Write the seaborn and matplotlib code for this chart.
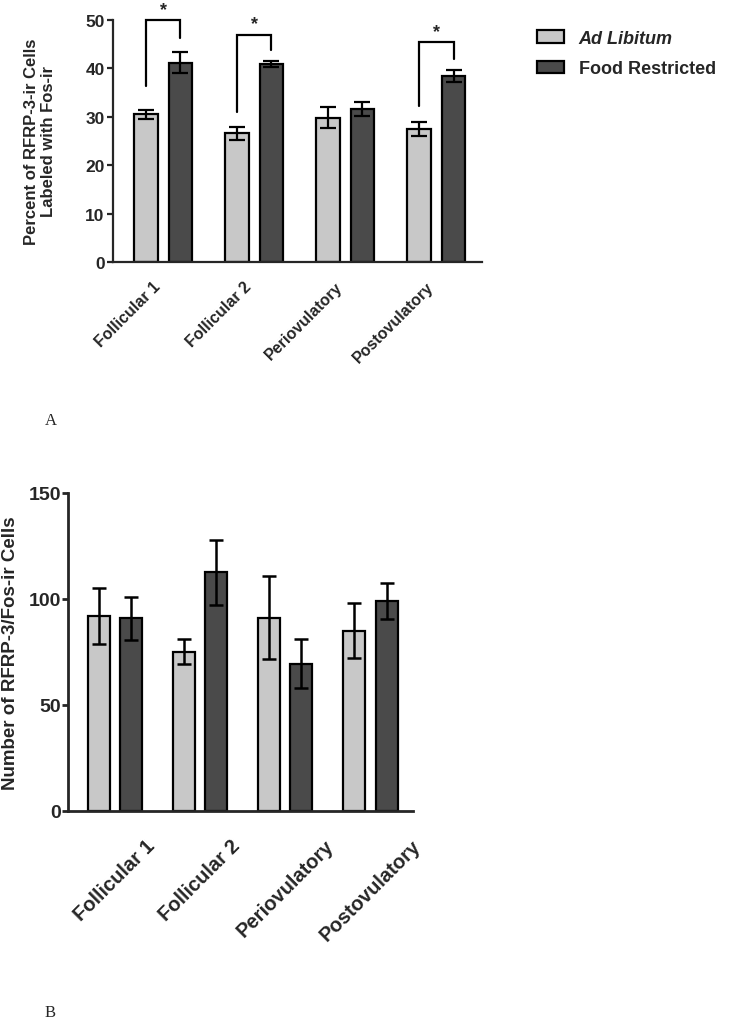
import pandas as pd
import numpy as np
import matplotlib
matplotlib.use('Agg')
import matplotlib.pyplot as plt
import seaborn as sns
from matplotlib.patches import Patch

phases = ['Follicular 1', 'Follicular 2', 'Periovulatory', 'Postovulatory']
groups = ['Ad Libitum', 'Food Restricted']

# panel A: percent of RFRP-3-ir cells labeled with Fos-ir (mean, sem)
pct_al = [30.5, 26.6, 29.8, 27.5]
pct_al_err = [0.9, 1.3, 2.2, 1.4]
pct_fr = [41.2, 40.9, 31.6, 38.4]
pct_fr_err = [2.2, 0.7, 1.5, 1.2]

# significance brackets in panel A: phase index, left foot, top, right foot
sig_phase = [0, 1, 3]
sig_left = [36.4, 31.0, 32.3]
sig_top = [49.9, 47.0, 45.4]
sig_right = [46.2, 43.7, 41.9]

# panel B: number of RFRP-3/Fos-ir cells (mean, sem)
num_al = [92.0, 75.0, 91.0, 85.0]
num_al_err = [13.2, 5.9, 19.6, 13.0]
num_fr = [90.8, 112.5, 69.3, 99.2]
num_fr_err = [10.0, 15.5, 11.6, 8.5]

light = '#c8c8c8'
dark = '#4a4a4a'

sns.set_style('ticks')
plt.rcParams['font.family'] = ['Liberation Sans', 'DejaVu Sans']
plt.rcParams['font.weight'] = 'bold'

fig = plt.figure(figsize=(7.31, 10.2), dpi=100)
axA = fig.add_axes([0.1546, 0.7422, 0.659 - 0.1546, 0.9794 - 0.7422])
axB = fig.add_axes([0.093, 0.2042, 0.565 - 0.093, 0.5157 - 0.2042])


def draw_panel(ax, al, al_err, fr, fr_err, spine_w, cap, ebw):
    df = pd.DataFrame({
        'phase': phases * 2,
        'group': [groups[0]] * 4 + [groups[1]] * 4,
        'value': al + fr,
    })
    sns.barplot(data=df, x='phase', y='value', hue='group', order=phases,
                hue_order=groups, palette=[light, dark], errorbar=None,
                width=0.76, gap=0.316, edgecolor='black', linewidth=1.6,
                saturation=1, legend=False, ax=ax)
    for cont, err in zip(ax.containers, [al_err, fr_err]):
        xs = [p.get_x() + p.get_width() / 2 for p in cont.patches]
        ys = [p.get_height() for p in cont.patches]
        ax.errorbar(xs, ys, yerr=err, fmt='none', ecolor='black',
                    elinewidth=ebw, capsize=cap, capthick=ebw, zorder=5)
    sns.despine(ax=ax)
    for s in ['left', 'bottom']:
        ax.spines[s].set_linewidth(spine_w)
    ax.set_xlabel('')
    ax.set_xlim(-0.55, 3.5)
    return ax


draw_panel(axA, pct_al, pct_al_err, pct_fr, pct_fr_err, 1.6, 6, 1.6)
axA.set_ylim(0, 50)
axA.set_yticks([0, 10, 20, 30, 40, 50])
axA.tick_params(axis='y', length=4, width=1.6, labelsize=12.5, pad=2)
axA.tick_params(axis='x', length=0, pad=12, labelsize=11.5, labelrotation=45)
for lbl in axA.get_xticklabels():
    lbl.set_ha('right')
    lbl.set_fontweight('bold')
for lbl in axA.get_yticklabels():
    lbl.set_fontweight('bold')
axA.set_ylabel('Percent of RFRP-3-ir Cells\nLabeled with Fos-ir', fontsize=12,
               fontweight='bold', linespacing=1.15)
axA.yaxis.set_label_coords(-0.155, 0.5)

# significance brackets
al_x = [p.get_x() + p.get_width() / 2 for p in axA.containers[0].patches]
fr_x = [p.get_x() + p.get_width() / 2 for p in axA.containers[1].patches]
for i, lo, top, ro in zip(sig_phase, sig_left, sig_top, sig_right):
    axA.plot([al_x[i], al_x[i], fr_x[i], fr_x[i]], [lo, top, top, ro],
             color='black', lw=1.6, clip_on=False, solid_joinstyle='miter')
    axA.text((al_x[i] + fr_x[i]) / 2, top + 0.4, '*', ha='center', va='bottom',
             fontsize=13, fontweight='bold', clip_on=False)

draw_panel(axB, num_al, num_al_err, num_fr, num_fr_err, 2.0, 4.7, 1.8)
axB.set_ylim(0, 150)
axB.set_yticks([0, 50, 100, 150])
axB.tick_params(axis='y', length=4, width=2.0, labelsize=14, pad=1)
axB.tick_params(axis='x', length=0, pad=18, labelsize=14.5, labelrotation=45)
for lbl in axB.get_xticklabels():
    lbl.set_ha('center')
    lbl.set_fontweight('bold')
for lbl in axB.get_yticklabels():
    lbl.set_fontweight('bold')
axB.set_ylabel('Number of RFRP-3/Fos-ir Cells', fontsize=13.5,
               fontweight='bold')
axB.yaxis.set_label_coords(-0.142, 0.5)

handles = [Patch(facecolor=light, edgecolor='black', linewidth=1.6),
           Patch(facecolor=dark, edgecolor='black', linewidth=1.6)]
leg = fig.legend(handles, groups, loc='upper left',
                 bbox_to_anchor=(0.725, 0.977), frameon=False, fontsize=13,
                 handlelength=1.5, handleheight=0.7, handletextpad=0.8,
                 labelspacing=0.75, borderaxespad=0)
leg.get_texts()[0].set_fontstyle('italic')
for t in leg.get_texts():
    t.set_fontweight('bold')

fig.text(45 / 731, 1 - 421 / 1020, 'A', family='Liberation Serif',
         fontsize=12, fontweight='normal', va='center')
fig.text(45 / 731, 1 - 1013 / 1020, 'B', family='Liberation Serif',
         fontsize=12, fontweight='normal', va='center')

fig.savefig('out.png', dpi=100)
